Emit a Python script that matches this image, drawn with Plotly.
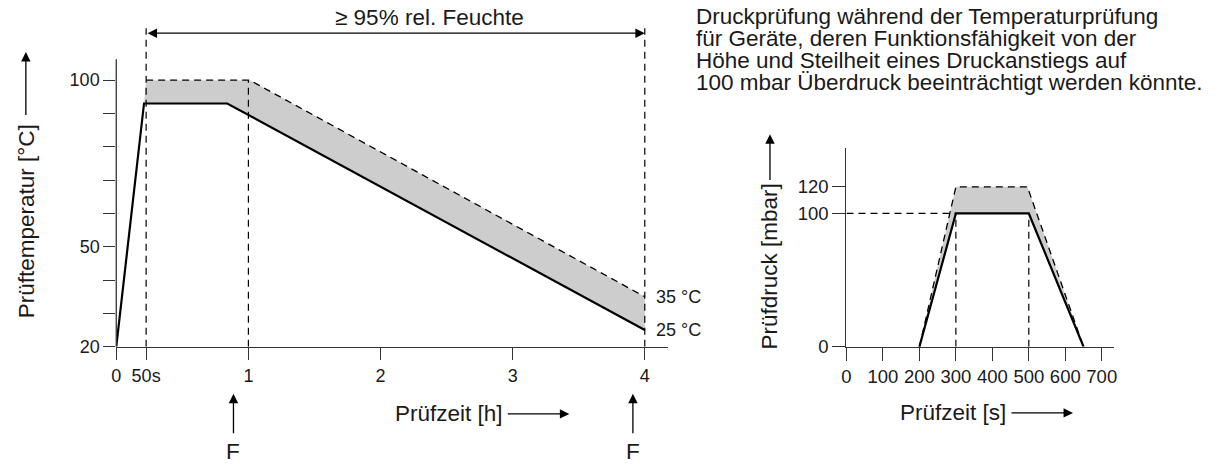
import plotly.graph_objects as go

W = 1225
H_REF = 464          # reference picture height (all pixel readings below are in it)
H = 475              # rendered page height (compensates vertical resampling)
SY = H / H_REF

# ---------------- data: temperature test (left) ----------------
temp_time_lower = [0, 0.21, 0.84, 4.0]        # h (start schematic)
temp_lower = [20, 93, 93, 25]                  # °C
temp_time_upper = [0.226, 1.01, 4.0]
temp_upper = [100, 100, 35]
temp_xtick_vals = [0, 0.226, 1, 2, 3, 4]
temp_xtick_text = ["0", "50s", "1", "2", "3", "4"]
temp_ytick_vals = [20, 30, 40, 50, 60, 70, 80, 90, 100]
temp_ytick_text = ["20", "", "", "50", "", "", "", "", "100"]
humid_start, humid_end = 0.226, 4.0
f_times = [0.887, 3.91]
end_labels = ["35 °C", "25 °C"]

# ---------------- data: pressure test (right) ----------------
press_time_lower = [200, 300, 500, 650]       # s
press_lower = [0, 100, 100, 0]                 # mbar
press_time_upper = [200, 300, 496, 650]
press_upper = [0, 120, 120, 0]
press_xtick_vals = [0, 100, 200, 300, 400, 500, 600, 700]
press_ytick_vals = [0, 100, 120]

note_lines = [
    "Druckprüfung während der Temperaturprüfung",
    "für Geräte, deren Funktionsfähigkeit von der",
    "Höhe und Steilheit eines Druckanstiegs auf",
    "100 mbar Überdruck beeinträchtigt werden könnte.",
]

FONT = "Liberation Sans, Arial, Helvetica, sans-serif"
TXT = "#1a1a1a"
AX = "#333333"
GREY = "#cdcdcd"
DASH = "7px,5px"

def px(x):
    return x / W

def py(y):
    return 1 - y / H_REF

fig = go.Figure()

fig.add_trace(go.Scatter(
    x=temp_time_upper + temp_time_lower[::-1][:-1],
    y=temp_upper + temp_lower[::-1][:-1],
    fill="toself", fillcolor=GREY, line=dict(width=0), mode="lines",
    hoverinfo="skip", showlegend=False, xaxis="x", yaxis="y"))
fig.add_trace(go.Scatter(
    x=temp_time_upper, y=temp_upper, mode="lines",
    line=dict(color="black", width=1.3, dash=DASH), showlegend=False,
    xaxis="x", yaxis="y"))
fig.add_trace(go.Scatter(
    x=temp_time_lower, y=temp_lower, mode="lines",
    line=dict(color="black", width=2.2), showlegend=False,
    xaxis="x", yaxis="y"))

fig.add_trace(go.Scatter(
    x=press_time_upper + press_time_lower[::-1],
    y=press_upper + press_lower[::-1],
    fill="toself", fillcolor=GREY, line=dict(width=0), mode="lines",
    hoverinfo="skip", showlegend=False, xaxis="x2", yaxis="y2"))
fig.add_trace(go.Scatter(
    x=press_time_upper, y=press_upper, mode="lines",
    line=dict(color="black", width=1.3, dash=DASH), showlegend=False,
    xaxis="x2", yaxis="y2"))
fig.add_trace(go.Scatter(
    x=press_time_lower, y=press_lower, mode="lines",
    line=dict(color="black", width=2.2), showlegend=False,
    xaxis="x2", yaxis="y2"))

shapes = []
dl = dict(color="black", width=1.2, dash=DASH)
y_guide_top = 115.6
shapes.append(dict(type="line", xref="x", yref="y", x0=humid_start, x1=humid_start,
                   y0=20, y1=y_guide_top, line=dl))
shapes.append(dict(type="line", xref="x", yref="y", x0=1, x1=1,
                   y0=20, y1=100, line=dl))
shapes.append(dict(type="line", xref="x", yref="y", x0=humid_end, x1=humid_end,
                   y0=20, y1=y_guide_top, line=dl))
left_xdom = [px(112), px(667)]
shapes.append(dict(type="line", xref="paper", yref="y", x0=left_xdom[0], x1=left_xdom[0],
                   y0=20, y1=106.3, line=dict(color=AX, width=1.3)))
shapes.append(dict(type="line", xref="x2", yref="y2", x0=0, x1=300, y0=100, y1=100, line=dl))
shapes.append(dict(type="line", xref="x2", yref="y2", x0=300, x1=300, y0=0, y1=100, line=dl))
shapes.append(dict(type="line", xref="x2", yref="y2", x0=500, x1=500, y0=0, y1=100, line=dl))

ann = []
arrow_common = dict(showarrow=True, arrowhead=2, arrowsize=1.45, arrowwidth=1.3,
                    arrowcolor="black", standoff=0, startstandoff=0, text="",
                    xanchor="center", yanchor="middle")
big = dict(family=FONT, size=22.5, color=TXT)

def label(**kw):
    d = dict(showarrow=False, xanchor="center", yanchor="middle", font=big)
    d.update(kw)
    return d

ann.append(dict(xref="x", yref="y", x=humid_end, y=114.1, axref="x", ayref="y",
                ax=humid_start, ay=114.1, arrowside="end+start", startarrowhead=2,
                startarrowsize=1.45, **arrow_common))
ann.append(label(xref="x", yref="y", x=2.37, y=118.7, text="≥ 95% rel. Feuchte"))

small = dict(family=FONT, size=18, color=TXT)
ann.append(label(xref="paper", yref="y", x=px(653), y=temp_upper[-1], text=end_labels[0],
                 xanchor="left", font=small))
ann.append(label(xref="paper", yref="y", x=px(653), y=temp_lower[-1], text=end_labels[1],
                 xanchor="left", font=small))

for ft in f_times:
    ann.append(dict(xref="x", yref="paper", x=ft, y=py(393), ax=0, ay=40 * SY, **arrow_common))
    ann.append(label(xref="x", yref="paper", x=ft, y=py(451), text="F"))

ann.append(label(xref="paper", yref="paper", x=px(22), y=py(221), text="Prüftemperatur [°C]",
                 textangle=-90))
ann.append(dict(xref="paper", yref="paper", x=px(21), y=py(52), ax=0, ay=63 * SY, **arrow_common))

ann.append(label(xref="paper", yref="paper", x=px(447), y=py(413), text="Prüfzeit [h]"))
ann.append(dict(xref="paper", yref="paper", x=px(568), y=py(413), ax=-63, ay=0, **arrow_common))

ann.append(label(xref="paper", yref="paper", x=px(770), y=py(266), text="Prüfdruck [mbar]",
                 textangle=-90))
ann.append(dict(xref="paper", yref="paper", x=px(770), y=py(134), ax=0, ay=46 * SY, **arrow_common))

ann.append(label(xref="paper", yref="paper", x=px(954), y=py(412), text="Prüfzeit [s]"))
ann.append(dict(xref="paper", yref="paper", x=px(1075), y=py(412), ax=-63, ay=0, **arrow_common))

for i, line in enumerate(note_lines):
    ann.append(label(xref="paper", yref="paper", x=px(694), y=py(16 + 22 * i), text=line,
                     xanchor="left"))

tickfont_l = dict(family=FONT, size=18, color=TXT)
tickfont_r = dict(family=FONT, size=18.5, color=TXT)

fig.update_layout(
    width=W, height=H, margin=dict(l=0, r=0, t=0, b=0),
    paper_bgcolor="white", plot_bgcolor="rgba(0,0,0,0)",
    showlegend=False,
    xaxis=dict(domain=left_xdom, range=[0, (667 - 112) / 133], anchor="y",
               tickmode="array", tickvals=temp_xtick_vals, ticktext=temp_xtick_text,
               ticks="outside", ticklen=12 * SY, tickwidth=1.3, tickcolor=AX,
               showline=True, linecolor=AX, linewidth=1.3, showgrid=False, zeroline=False,
               tickfont=tickfont_l),
    yaxis=dict(domain=[py(346), 1], range=[20, 20 + 346 / 3.325], anchor="x",
               tickmode="array", tickvals=temp_ytick_vals, ticktext=temp_ytick_text,
               ticks="outside", ticklen=12, tickwidth=1.3, tickcolor=AX,
               showline=False, showgrid=False, zeroline=False, tickfont=tickfont_l),
    xaxis2=dict(domain=[px(847), px(1116)], range=[0, (1116 - 847) / 0.3671], anchor="y2",
                tickmode="array", tickvals=press_xtick_vals,
                ticks="outside", ticklen=13 * SY, tickwidth=1.3, tickcolor=AX,
                showline=True, linecolor=AX, linewidth=1.3, showgrid=False, zeroline=False,
                tickfont=tickfont_r),
    yaxis2=dict(domain=[py(346), py(148)], range=[0, (346 - 148) / 1.33], anchor="x2",
                tickmode="array", tickvals=press_ytick_vals,
                ticks="outside", ticklen=13, tickwidth=1.3, tickcolor=AX,
                showline=True, linecolor=AX, linewidth=1.3, showgrid=False, zeroline=False,
                tickfont=tickfont_r),
    shapes=shapes, annotations=ann,
)

page_css = ("var s='margin:0;padding:0;overflow:hidden;width:%dpx;height:%dpx';"
            "document.documentElement.style.cssText=s;document.body.style.cssText=s;") % (W, H)
fig.write_html("out.html", config={"displayModeBar": False}, post_script=page_css)
